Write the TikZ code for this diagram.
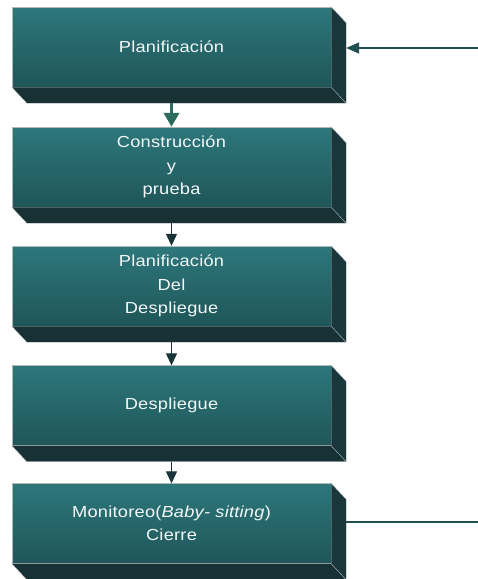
\documentclass[tikz,border=0pt]{standalone}
\usepackage{fontspec}
\usetikzlibrary{calc,arrows.meta}
\newfontfamily\boxfont[FakeStretch=1.14,LetterSpace=1.5]{Liberation Sans}

\definecolor{faceTop}{RGB}{45,119,123}
\definecolor{faceBot}{RGB}{31,86,89}
\definecolor{sideFace}{RGB}{26,56,60}
\definecolor{baseFace}{RGB}{23,49,53}
\definecolor{rimLine}{RGB}{175,185,186}
\definecolor{linkDark}{RGB}{24,52,56}
\definecolor{linkTeal}{RGB}{44,108,94}
\definecolor{loopLine}{RGB}{32,78,82}

\tikzset{
  stage/.style={minimum width=319pt, minimum height=80pt, inner sep=0pt,
    top color=faceTop, bottom color=faceBot, draw=rimLine, line width=0.3pt,
    text=white!94!faceTop, align=center,
    font=\boxfont\fontsize{16}{23.5}\selectfont},
  sideface/.style={fill=sideFace, draw=rimLine, line width=0.3pt},
  baseface/.style={fill=baseFace, draw=rimLine, line width=0.3pt},
  thinlink/.style={draw=linkDark, line width=1pt,
    -{Triangle[width=11pt,length=12pt]}},
  thicklink/.style={draw=linkTeal, line width=3.5pt,
    -{Triangle[width=15pt,length=14pt]}},
  looplink/.style={draw=loopLine, line width=1.5pt}
}

\begin{document}
\begin{tikzpicture}[x=1pt,y=-1pt]
  \useasboundingbox (0,0) rectangle (478,579);

  % front faces of the five stages
  \node[stage] (b1) at (171.5,47)  {Planificación};
  \node[stage] (b2) at (171.5,167) {Construcción\\y\\prueba};
  \node[stage] (b3) at (171.5,286) {Planificación\\Del\\Despliegue};
  \node[stage] (b4) at (171.5,405.5) {Despliegue};
  \node[stage] (b5) at (171.5,523.5) {Monitoreo(\textit{Baby- sitting})\\Cierre};

  % extruded side and base of every block
  \foreach \b in {b1,b2,b3,b4,b5}{
    \path[baseface] (\b.south west) -- (\b.south east)
      -- ($(\b.south east)+(15,16)$) -- ($(\b.south west)+(15,16)$) -- cycle;
    \path[sideface] (\b.north east) -- ($(\b.north east)+(15,16)$)
      -- ($(\b.south east)+(15,16)$) -- (\b.south east) -- cycle;
    \coordinate (\b d) at ($(\b.south)+(0,16)$);
    \coordinate (\b r) at ($(\b.east)+(15,0)$);
  }

  % links between consecutive stages
  \draw[thicklink] (b1d) -- (b2.north);
  \draw[thinlink] (b2d) -- (b3.north);
  \draw[thinlink] (b3d) -- (b4.north);
  \draw[thinlink] (b4d) -- (b5.north);

  % feedback lines at the right
  \coordinate (feedIn) at (478,48);
  \coordinate (feedOut) at (478,522);
  \draw[looplink, -{Triangle[width=11pt,length=13pt]}] (feedIn) -- (b1r |- feedIn);
  \draw[looplink] (b5r |- feedOut) -- (feedOut);
\end{tikzpicture}
\end{document}
